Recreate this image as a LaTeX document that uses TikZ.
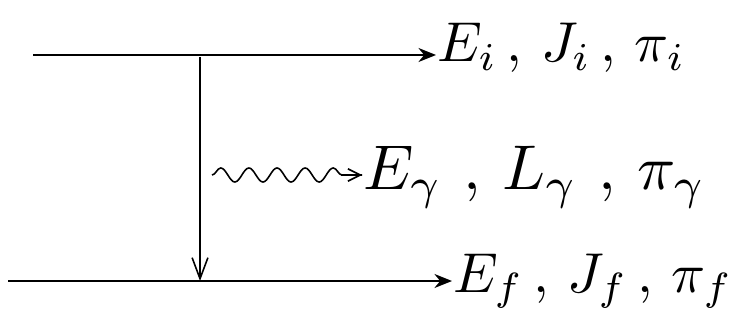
\documentclass[tikz,border=0pt]{standalone}
\usepackage{amsmath}
\usepackage{tikz}
\usetikzlibrary{positioning,arrows.meta,decorations.pathmorphing}

\begin{document}
\begin{tikzpicture}[
  x=0.02cm, y=-0.02cm,
  level/.style={line width=1.1pt, -{Stealth[length=10pt,width=8pt]}},
  decay/.style={line width=0.9pt, -{Straight Barb[length=12pt,width=9pt]}},
  photon/.style={line width=0.9pt, decorate,
    decoration={snake, amplitude=4pt, segment length=16pt, post length=6pt}},
  photontip/.style={line width=0.9pt, -{Straight Barb[length=7pt,width=7pt]}},
  lbl/.style={inner sep=0pt, anchor=base west}
]
  \useasboundingbox (0,0) rectangle (746,334);

  % initial and final levels
  \coordinate (ini) at (33,55);
  \coordinate (fin) at (8,281);
  \node[lbl, scale=3.2] (iLbl) at (436,62) {$E_i\,,\,J_i\,,\,\pi_i$};
  \node[lbl, scale=3.6] (gLbl) at (362,190) {$E_\gamma\ ,\,L_\gamma\ ,\,\pi_\gamma$};
  \node[lbl, scale=3.2] (fLbl) at (452,292) {$E_f\,,\,J_f\,,\,\pi_f$};

  \draw[level] (ini) -- (ini -| iLbl.west);
  \draw[level] (fin) -- (fin -| fLbl.west);

  % transition
  \coordinate (top) at (200,57);
  \draw[decay] (top) -- (top |- fin);

  % emitted photon
  \coordinate (ph) at (212,175);
  \draw[photon] (ph) -- (ph -| gLbl.west);
  \draw[photontip] ([xshift=-12pt]ph -| gLbl.west) -- (ph -| gLbl.west);
\end{tikzpicture}
\end{document}
